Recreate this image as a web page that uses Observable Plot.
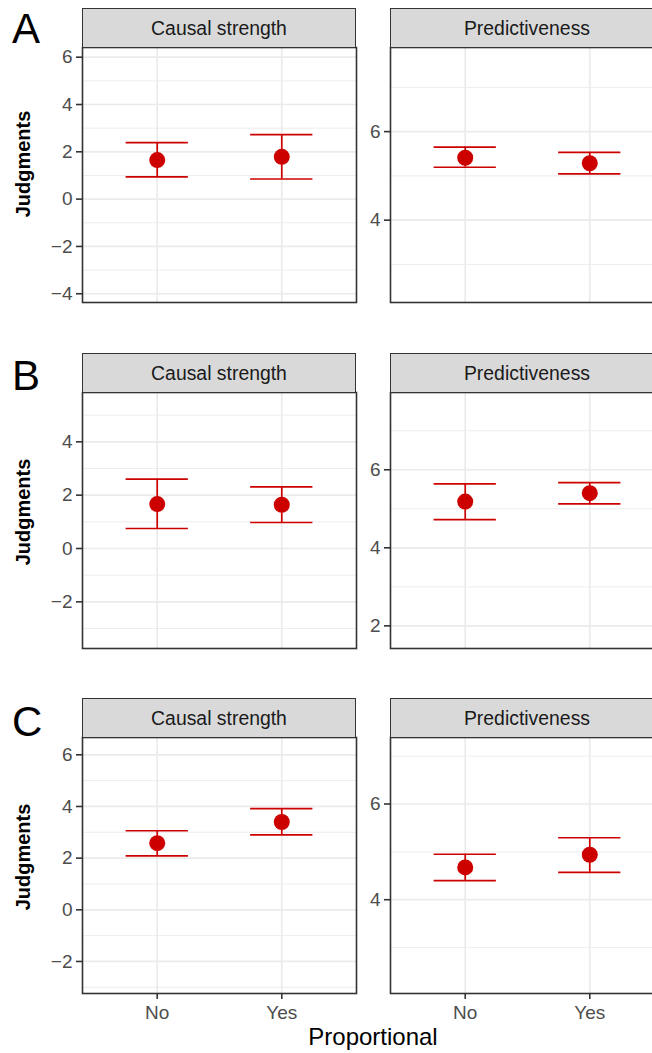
<!DOCTYPE html>
<html>
<head>
<meta charset="utf-8">
<script src="https://cdn.jsdelivr.net/npm/d3@7"></script>
<script src="https://cdn.jsdelivr.net/npm/@observablehq/plot@0.6"></script>
<style>
  html, body { margin: 0; padding: 0; background: #fff; }
  #fig { position: relative; width: 652px; height: 1053px; overflow: hidden; background: #fff;
         font-family: "Liberation Sans", Arial, sans-serif; }
  #fig > svg, #fig > div { position: absolute; }
  .strip { box-sizing: border-box; background: #D9D9D9; border: 1.6px solid #333;
           display: flex; align-items: center; justify-content: center;
           font-size: 19.4px; color: #1A1A1A; }
</style>
</head>
<body>
<div id="fig"></div>
<script>
// ---- data ----
const categories = ["No", "Yes"];
const rowLabels = ["A", "B", "C"];
const measures = ["Causal strength", "Predictiveness"];

// Causal strength (rows A, B, C; values for No, Yes)
const causalMean = [[1.65, 1.79], [1.665, 1.64], [2.58, 3.40]];
const causalLow  = [[0.94, 0.85], [0.75, 0.975], [2.09, 2.90]];
const causalHigh = [[2.39, 2.73], [2.60, 2.31], [3.06, 3.92]];
const causalDomain = [[-4.37, 6.41], [-3.75, 5.85], [-3.24, 6.67]];

// Predictiveness
const predMean = [[5.41, 5.285], [5.185, 5.40], [4.675, 4.94]];
const predLow  = [[5.195, 5.045], [4.72, 5.125], [4.40, 4.57]];
const predHigh = [[5.65, 5.53], [5.64, 5.67], [4.95, 5.295]];
const predDomain = [[2.14, 7.9], [1.42, 7.98], [2.04, 7.39]];

const xLabel = "Proportional";
const yLabel = "Judgments";

// ---- layout ----
const red = "#CD0000";
const font = '"Liberation Sans", Arial, sans-serif';
const stripTop = [8, 353, 698];
const stripH = 39;
const panelH = [255, 256, 256];
const panelLeft = [82, 390];
const panelW = 274;
const yTitleCenter = [164, 512, 857];
const fmt = d3.format("d");

const fig = document.getElementById("fig");

function drawPanel(left, top, height, domain, mean, lo, hi, showX) {
  const data = categories.map((c, i) => ({x: i + 1, cat: c, mean: mean[i], lo: lo[i], hi: hi[i]}));
  const [d0, d1] = domain;
  const major = d3.range(Math.ceil(d0 / 2) * 2, d1, 2);
  const minor = d3.range(Math.ceil((d0 - 1) / 2) * 2 + 1, d1, 2);
  const ml = 70, mb = showX ? 40 : 1;
  const plot = Plot.plot({
    width: ml + panelW + 1,
    height: 1 + height + mb,
    marginLeft: ml, marginRight: 1, marginTop: 1, marginBottom: mb,
    x: {domain: [0.4, 2.6], axis: null},
    y: {domain, axis: null},
    style: {fontFamily: font, fontSize: "19px", background: "transparent", overflow: "visible"},
    marks: [
      Plot.ruleY(minor, {stroke: "#EBEBEB", strokeWidth: 0.9}),
      Plot.ruleY(major, {stroke: "#EBEBEB", strokeWidth: 1.7}),
      Plot.ruleX(data.map(d => d.x), {stroke: "#EBEBEB", strokeWidth: 1.7}),
      Plot.axisY({ticks: major, tickFormat: d => fmt(d).replace("-", "\u2212"),
                  tickSize: 6, tickPadding: 4, stroke: "#333", fill: "#4D4D4D",
                  strokeWidth: 1.6, label: null, fontSize: 19}),
      showX ? Plot.axisX({ticks: data.map(d => d.x), tickFormat: d => categories[d - 1],
                          tickSize: 6, tickPadding: 6, stroke: "#333", fill: "#4D4D4D",
                          strokeWidth: 1.6, label: null, fontSize: 19}) : null,
      Plot.ruleX(data, {x: "x", y1: "lo", y2: "hi", stroke: red, strokeWidth: 1.7}),
      Plot.ruleY(data, {y: "lo", x1: d => d.x - 0.25, x2: d => d.x + 0.25, stroke: red, strokeWidth: 1.7}),
      Plot.ruleY(data, {y: "hi", x1: d => d.x - 0.25, x2: d => d.x + 0.25, stroke: red, strokeWidth: 1.7}),
      Plot.dot(data, {x: "x", y: "mean", r: 8, fill: red, stroke: null}),
      Plot.frame({stroke: "#333", strokeWidth: 1.6})
    ]
  });
  plot.style.left = (left - ml) + "px";
  plot.style.top = (top - 1) + "px";
  plot.style.maxWidth = "none";
  fig.appendChild(plot);
}

function drawStrip(left, top, text) {
  const s = document.createElement("div");
  s.className = "strip";
  s.style.left = left + "px";
  s.style.top = top + "px";
  s.style.width = panelW + "px";
  s.style.height = (stripH + 1) + "px";
  s.textContent = text;
  fig.appendChild(s);
}

rowLabels.forEach((lab, r) => {
  const pTop = stripTop[r] + stripH;
  const last = r === rowLabels.length - 1;
  drawPanel(panelLeft[0], pTop, panelH[r], causalDomain[r], causalMean[r], causalLow[r], causalHigh[r], last);
  drawPanel(panelLeft[1], pTop, panelH[r], predDomain[r], predMean[r], predLow[r], predHigh[r], last);
  drawStrip(panelLeft[0], stripTop[r], measures[0]);
  drawStrip(panelLeft[1], stripTop[r], measures[1]);
});

// text overlay: row letters, y titles, x title
const ov = d3.select(fig).append("svg")
  .attr("width", 652).attr("height", 1053)
  .style("left", "0px").style("top", "0px")
  .style("pointer-events", "none")
  .style("font-family", font);

const letterBase = [43, 390, 736];
rowLabels.forEach((lab, r) => {
  ov.append("text").attr("x", 12).attr("y", letterBase[r])
    .attr("font-size", 42).attr("fill", "#000").text(lab);
  ov.append("text")
    .attr("transform", `translate(30,${yTitleCenter[r]}) rotate(-90)`)
    .attr("text-anchor", "middle").attr("font-size", 20).attr("font-weight", "bold")
    .attr("fill", "#000").text(yLabel);
});
ov.append("text").attr("x", (panelLeft[0] + panelLeft[1] + panelW) / 2).attr("y", 1045)
  .attr("text-anchor", "middle").attr("font-size", 24).attr("fill", "#000").text(xLabel);
</script>
</body>
</html>
